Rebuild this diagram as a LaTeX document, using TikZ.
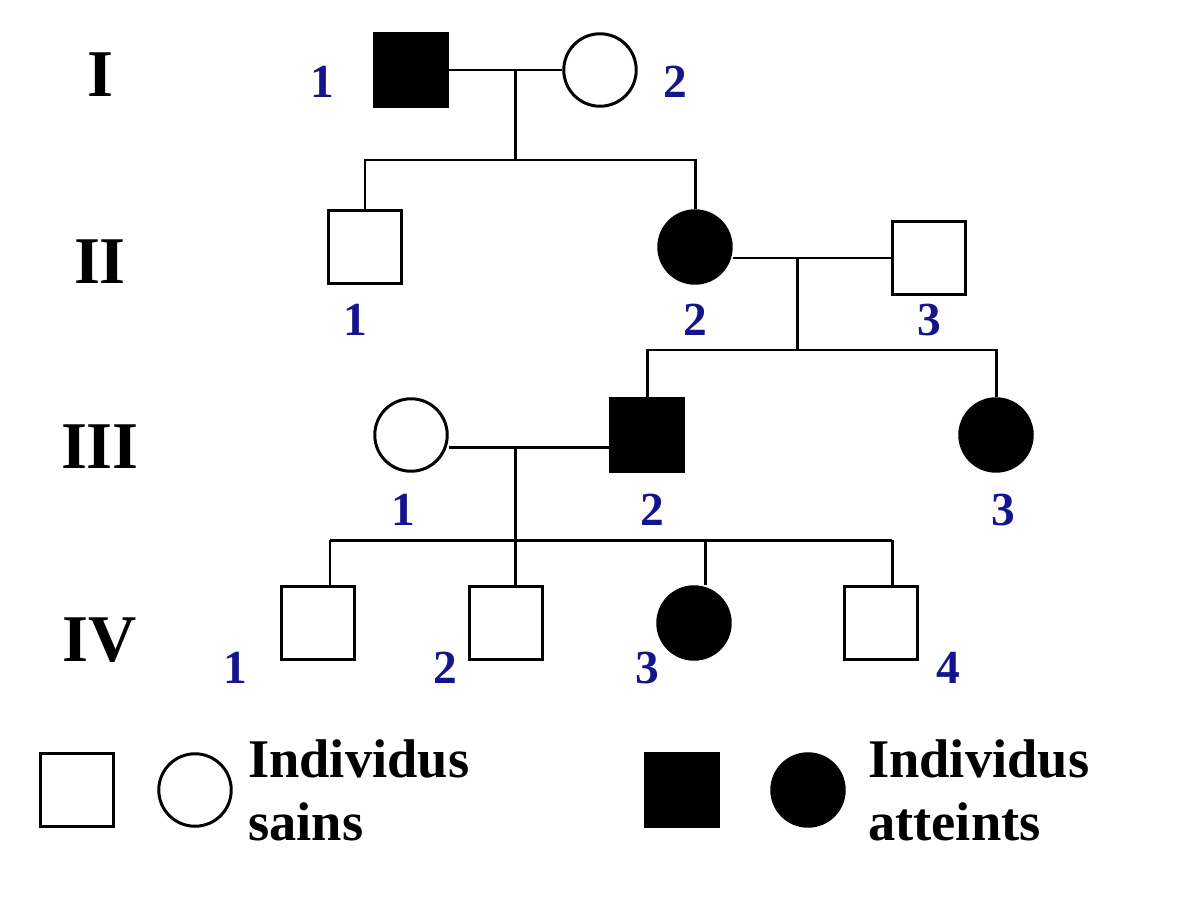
\documentclass[tikz,border=0pt]{standalone}
\usepackage{fontspec}
\setmainfont{Liberation Serif}
\usetikzlibrary{positioning}
\definecolor{numblue}{RGB}{20,20,140}
\tikzset{
  male/.style={draw,line width=1.7pt,minimum size=1.45cm,inner sep=0pt},
  female/.style={draw,circle,line width=1.7pt,minimum size=1.45cm,inner sep=0pt},
  ill/.style={fill=black},
  num/.style={text=numblue,font=\bfseries\fontsize{27}{30}\selectfont},
  gen/.style={font=\bfseries\fontsize{38}{40}\selectfont},
  legend/.style={font=\bfseries\fontsize{31}{36}\selectfont,align=left,anchor=west},
  link/.style={line width=1.7pt}
}
\begin{document}
\begin{tikzpicture}[x=0.02cm,y=-0.02cm]
\useasboundingbox (0,0) rectangle (1200,896);

% Generations
\node[gen] (gI) at (100,75) {I};
\node[gen] (gII) at (100,262) {II};
\node[gen] (gIII) at (100,447) {III};
\node[gen] (gIV) at (100,640) {IV};

% Generation I
\node[male,ill] (i1) at (411,70) {};
\node[female] (i2) at (600,70) {};
\node[num] at (322,82) {1};
\node[num] at (675,82) {2};
\draw[link] (i1) -- (i2);
\coordinate (mI) at (515,70);
\coordinate (sI) at (515,160);
\draw[link] (mI) -- (sI);

% Generation II
\node[male] (ii1) at (365,247) {};
\node[female,ill] (ii2) at (695,247) {};
\node[male] (ii3) at (929,258) {};
\node[num] at (355,320) {1};
\node[num] at (695,320) {2};
\node[num] at (929,320) {3};
\draw[link] (ii1.north) |- (sI) -| (ii2.north);
\draw[link] (ii2.east |- ii3) -- (ii3);
\coordinate (mII) at (797,258);
\coordinate (sII) at (797,350);
\draw[link] (mII) -- (sII);

% Generation III
\node[female] (iii1) at (411,435) {};
\node[male,ill] (iii2) at (647,435) {};
\node[female,ill] (iii3) at (996,435) {};
\node[num] at (403,510) {1};
\node[num] at (652,510) {2};
\node[num] at (1003,510) {3};
\draw[link] (iii2.north) |- (sII) -| (iii3.north);
\draw[link] (iii1.east |- 0,447) -- (iii2.west |- 0,447);
\coordinate (mIII) at (515,447);
\coordinate (sIII) at (515,540);
\draw[link] (mIII) -- (sIII);

% Generation IV
\node[male] (iv1) at (318,623) {};
\node[male] (iv2) at (506,623) {};
\node[female,ill] (iv3) at (694,623) {};
\node[male] (iv4) at (881,623) {};
\node[num] at (235,668) {1};
\node[num] at (445,668) {2};
\node[num] at (647,668) {3};
\node[num] at (948,668) {4};
\draw[link] (330,540) -- (892,540);
\foreach \n/\x in {iv1/330,iv2/515,iv3/705,iv4/892}
  \draw[link] (\x,540) -- (\x,0 |- \n.north);

% Legend
\node[male] (lm) at (77,790) {};
\node[female] (lf) at (195,790) {};
\node[legend] (lt1) at (242,790) {Individus\\sains};
\node[male,ill] (lmi) at (682,790) {};
\node[female,ill] (lfi) at (808,790) {};
\node[legend] (lt2) at (862,790) {Individus\\atteints};
\end{tikzpicture}
\end{document}
